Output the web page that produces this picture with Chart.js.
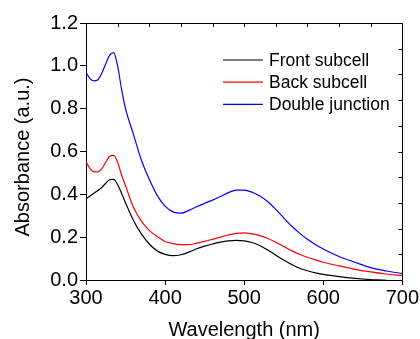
<!DOCTYPE html>
<html>
<head>
<meta charset="utf-8">
<script src="https://cdn.jsdelivr.net/npm/chart.js@4.4.1/dist/chart.umd.min.js"></script>
<style>
  html, body { margin: 0; padding: 0; background: #fff; }
  #wrap { width: 420px; height: 339px; position: relative; }
</style>
</head>
<body>
<div id="wrap"><canvas id="absChart"></canvas></div>
<script>
// Wavelength grid (nm)
const wavelengths = [300, 305, 310, 315, 320, 325, 330, 335, 340, 345, 350, 360, 370, 380, 390, 400,
  410, 420, 430, 440, 450, 460, 470, 480, 490, 500, 510, 520, 530, 540, 550, 560, 570, 580, 590,
  600, 620, 640, 660, 680, 700];

const frontSubcell = [0.379, 0.392, 0.405, 0.418, 0.432, 0.452, 0.468, 0.470, 0.445, 0.405, 0.360,
  0.278, 0.215, 0.168, 0.136, 0.120, 0.114, 0.118, 0.130, 0.146, 0.158, 0.168, 0.177, 0.183,
  0.185, 0.183, 0.175, 0.160, 0.140, 0.116, 0.093, 0.072, 0.055, 0.043, 0.033, 0.026, 0.016,
  0.008, 0.002, -0.002, -0.004];

const backSubcell = [0.553, 0.520, 0.505, 0.505, 0.520, 0.550, 0.578, 0.582, 0.550, 0.490, 0.440,
  0.340, 0.275, 0.232, 0.203, 0.180, 0.170, 0.165, 0.165, 0.172, 0.180, 0.190, 0.200, 0.210,
  0.218, 0.220, 0.215, 0.207, 0.194, 0.176, 0.157, 0.137, 0.120, 0.106, 0.094, 0.083, 0.066,
  0.050, 0.038, 0.028, 0.020];

const doubleJunction = [0.970, 0.940, 0.930, 0.935, 0.965, 1.010, 1.050, 1.062, 1.000, 0.890, 0.800,
  0.680, 0.560, 0.470, 0.395, 0.345, 0.318, 0.312, 0.325, 0.342, 0.358, 0.373, 0.390, 0.408,
  0.420, 0.420, 0.410, 0.392, 0.365, 0.330, 0.290, 0.252, 0.219, 0.190, 0.166, 0.145, 0.110,
  0.083, 0.058, 0.042, 0.030];

const seriesLabels = ['Front subcell', 'Back subcell', 'Double junction'];
const seriesColors = ['#000000', '#ff0000', '#0000ff'];

// minor ticks on the top and right frame
const topTicks = [300, 340, 380, 420, 460, 500, 540, 580, 620, 660, 700];
const rightTicks = [0, 0.12, 0.24, 0.36, 0.48, 0.6, 0.72, 0.84, 0.96, 1.08, 1.2];

const FONT = "'Liberation Sans', Arial, sans-serif";

function toPoints(ys) {
  return wavelengths.map((x, i) => ({ x: x, y: ys[i] }));
}

const framePlugin = {
  id: 'frame',
  afterDraw(chart) {
    const ctx = chart.ctx;
    const a = chart.chartArea;
    const xs = chart.scales.x;
    const ys = chart.scales.y;
    ctx.save();
    ctx.strokeStyle = '#000';
    ctx.lineWidth = 1;
    // top + right frame
    ctx.beginPath();
    ctx.moveTo(a.left - 6, Math.round(a.top) + 0.5);
    ctx.lineTo(a.right, Math.round(a.top) + 0.5);
    ctx.moveTo(Math.round(a.right) + 0.5, a.top);
    ctx.lineTo(Math.round(a.right) + 0.5, a.bottom + 5);
    topTicks.forEach(v => {
      const px = Math.round(xs.getPixelForValue(v)) + 0.5;
      ctx.moveTo(px, a.top);
      ctx.lineTo(px, a.top + 4);
    });
    rightTicks.forEach(v => {
      const py = Math.round(ys.getPixelForValue(v)) + 0.5;
      ctx.moveTo(a.right, py);
      ctx.lineTo(a.right - 4, py);
    });
    ctx.stroke();

    // legend
    ctx.font = '17.5px ' + FONT;
    ctx.textBaseline = 'middle';
    ctx.textAlign = 'left';
    seriesLabels.forEach((lab, i) => {
      const y = 60 + i * 22.2;
      ctx.strokeStyle = seriesColors[i];
      ctx.lineWidth = 1.2;
      ctx.beginPath();
      ctx.moveTo(223, y);
      ctx.lineTo(263, y);
      ctx.stroke();
      ctx.fillStyle = '#000';
      ctx.fillText(lab, 269, y + 1);
    });

    // axis titles
    ctx.font = '20px ' + FONT;
    ctx.fillStyle = '#000';
    ctx.textAlign = 'center';
    ctx.fillText('Wavelength (nm)', (a.left + a.right) / 2, 330);
    ctx.translate(23, 157);
    ctx.rotate(-Math.PI / 2);
    ctx.fillText('Absorbance (a.u.)', 0, 0);
    ctx.restore();
  }
};

new Chart(document.getElementById('absChart'), {
  type: 'line',
  data: {
    datasets: [
      { label: seriesLabels[0], data: toPoints(frontSubcell), borderColor: seriesColors[0] },
      { label: seriesLabels[1], data: toPoints(backSubcell), borderColor: seriesColors[1] },
      { label: seriesLabels[2], data: toPoints(doubleJunction), borderColor: seriesColors[2] }
    ]
  },
  options: {
    responsive: true,
    maintainAspectRatio: false,
    animation: false,
    layout: { padding: { top: 23, right: 16, left: 0, bottom: 0 } },
    elements: {
      line: { borderWidth: 1.2, tension: 0.4, cubicInterpolationMode: 'monotone', fill: false },
      point: { radius: 0, hoverRadius: 0 }
    },
    plugins: {
      legend: { display: false },
      tooltip: { enabled: false }
    },
    scales: {
      x: {
        type: 'linear',
        min: 300,
        max: 700,
        afterFit: s => { s.height = 59; },
        ticks: {
          stepSize: 100,
          color: '#000',
          font: { family: FONT, size: 20 },
          padding: 1,
          maxRotation: 0
        },
        grid: { drawOnChartArea: false, drawTicks: true, tickLength: 5, color: '#000' },
        border: { display: true, color: '#000', width: 1 }
      },
      y: {
        min: 0,
        max: 1.2,
        afterFit: s => { s.width = 86; },
        ticks: {
          stepSize: 0.2,
          color: '#000',
          font: { family: FONT, size: 20 },
          padding: 2,
          callback: v => v.toFixed(1)
        },
        grid: { drawOnChartArea: false, drawTicks: true, tickLength: 6, color: '#000' },
        border: { display: true, color: '#000', width: 1 }
      }
    }
  },
  plugins: [framePlugin]
});
</script>
</body>
</html>
